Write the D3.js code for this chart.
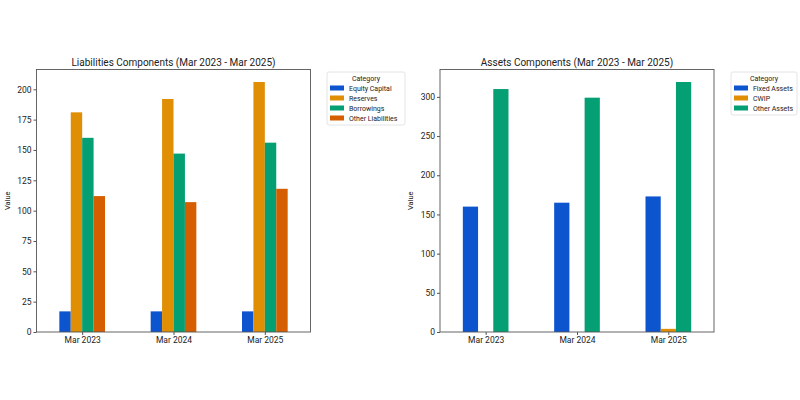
<!DOCTYPE html>
<html>
<head>
<meta charset="utf-8">
<script src="https://cdn.jsdelivr.net/npm/d3@7"></script>
<style>
  body { margin: 0; background: #fff; }
  text { font-family: Roboto, "Open Sans", sans-serif; fill: #222; }
</style>
</head>
<body>
<svg id="chart" width="800" height="400"></svg>
<script>
// Data.
const periods = ["Mar 2023", "Mar 2024", "Mar 2025"];

const liabilityCategories = ["Equity Capital", "Reserves", "Borrowings", "Other Liabilities"];
const equityCapital = [17, 17, 17];
const reserves = [181, 192, 206];
const borrowings = [160, 147, 156];
const otherLiabilities = [112, 107, 118];

const assetCategories = ["Fixed Assets", "CWIP", "Other Assets"];
const fixedAssets = [160, 165, 173];
const cwip = [0, 0, 4];
const otherAssets = [310, 299, 319];

const liabilityTicks = [0, 25, 50, 75, 100, 125, 150, 175, 200];
const assetTicks = [0, 50, 100, 150, 200, 250, 300];

const palette = ["#0d55cf", "#e08e04", "#049f73", "#d45e00"];

const svg = d3.select("#chart");

// Draw one grouped bar panel.
function groupedBars(opts) {
  const { left, right, top, bottom, title, categories, series, ticks, legendX, legendW } = opts;

  const maxVal = d3.max(series.flat());
  const x = d3.scaleLinear().domain([-0.5, periods.length - 0.5]).range([left, right]);
  const y = d3.scaleLinear().domain([0, maxVal * 1.05]).range([bottom, top]);

  const g = svg.append("g");
  const bw = 0.5 / series.length;

  series.forEach((vals, s) => {
    g.selectAll(null)
      .data(vals)
      .enter()
      .append("rect")
      .attr("x", (d, i) => x(i - 0.25 + s * bw))
      .attr("width", x(bw) - x(0))
      .attr("y", (d) => y(d))
      .attr("height", (d) => y(0) - y(d))
      .attr("fill", palette[s]);
  });

  // Axes.
  const xAxis = g.append("g")
    .attr("transform", `translate(0,${bottom})`)
    .call(d3.axisBottom(x).tickValues(d3.range(periods.length)).tickFormat((i) => periods[i]).tickSize(3).tickPadding(2));
  const yAxis = g.append("g")
    .attr("transform", `translate(${left},0)`)
    .call(d3.axisLeft(y).tickValues(ticks).tickSize(3).tickPadding(2));
  [xAxis, yAxis].forEach((a) => {
    a.select(".domain").remove();
    a.selectAll("line").attr("stroke", "#555");
    a.selectAll("text").style("font-size", "8.5px").attr("fill", "#222");
  });

  // Frame.
  g.append("rect")
    .attr("x", left).attr("y", top)
    .attr("width", right - left).attr("height", bottom - top)
    .attr("fill", "none").attr("stroke", "#555").attr("stroke-width", 0.9);

  g.append("text")
    .attr("x", (left + right) / 2).attr("y", top - 4)
    .attr("text-anchor", "middle")
    .style("font-size", "10px")
    .text(title);

  g.append("text")
    .attr("transform", `translate(${left - 27},${(top + bottom) / 2}) rotate(-90)`)
    .attr("text-anchor", "middle")
    .style("font-size", "7.5px")
    .text("Value");

  // Legend.
  const lg = g.append("g").attr("transform", `translate(${legendX},72)`);
  lg.append("rect")
    .attr("width", legendW).attr("height", 13 + categories.length * 10)
    .attr("rx", 2)
    .attr("fill", "#fff").attr("stroke", "#ddd").attr("stroke-width", 0.8);
  lg.append("text")
    .attr("x", legendW / 2).attr("y", 8.5)
    .attr("text-anchor", "middle")
    .style("font-size", "7px")
    .text("Category");
  categories.forEach((c, i) => {
    lg.append("rect")
      .attr("x", 3).attr("y", 13.5 + i * 10)
      .attr("width", 14).attr("height", 5)
      .attr("fill", palette[i]);
    lg.append("text")
      .attr("x", 22).attr("y", 18.8 + i * 10)
      .style("font-size", "7px")
      .text(c);
  });
}

groupedBars({
  left: 36.5, right: 310.5, top: 69.5, bottom: 332,
  title: "Liabilities Components (Mar 2023 - Mar 2025)",
  categories: liabilityCategories,
  series: [equityCapital, reserves, borrowings, otherLiabilities],
  ticks: liabilityTicks,
  legendX: 327, legendW: 78
});

groupedBars({
  left: 440, right: 714, top: 69.5, bottom: 332,
  title: "Assets Components (Mar 2023 - Mar 2025)",
  categories: assetCategories,
  series: [fixedAssets, cwip, otherAssets],
  ticks: assetTicks,
  legendX: 731, legendW: 66
});
</script>
</body>
</html>
